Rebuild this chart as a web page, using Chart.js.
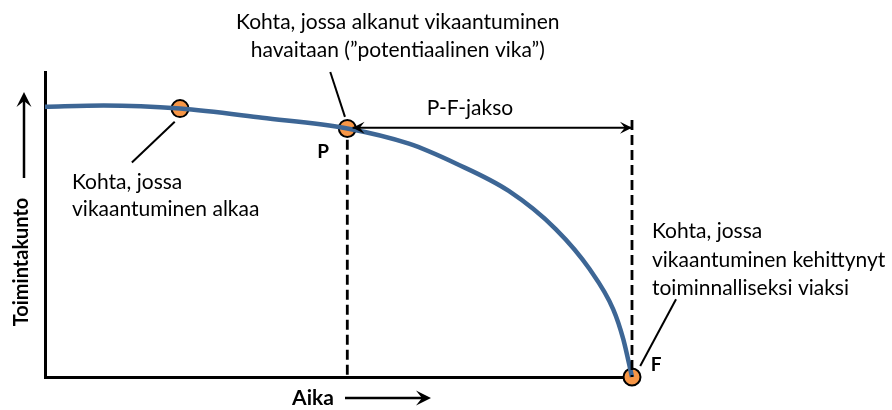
<!DOCTYPE html>
<html>
<head>
<meta charset="utf-8">
<script src="https://cdn.jsdelivr.net/npm/chart.js@4/dist/chart.umd.min.js"></script>
<style>
  html, body { margin: 0; padding: 0; background: #fff; }
</style>
</head>
<body>
<canvas id="pf" width="892" height="410"></canvas>
<script>
// P-F curve: time (0..100) vs condition (0..100)
const aika = [0, 10, 23, 37, 51.5, 62, 70, 79, 87, 92.8, 96.8, 98.5, 100];
const kunto = [88.6, 89, 88, 85, 81.5, 76.5, 70, 61, 48.5, 35.3, 22.2, 12.5, 0];

// marked points: onset, P, F
const pointX = [23, 51.5, 100];
const pointY = [88, 81.5, 0];

// dashed verticals at P and F
const dashP = [[51.5, 77.8], [51.5, 0]];
const dashF = [[100, 84.3], [100, 0]];

// P-F interval arrow
const pfArrow = [[52.4, 81.7], [100, 81.7]];

// leader lines from labels to points
const leaders = [
    [[22.1, 83.7], [14.8, 70.3]],
    [[48.6, 100], [51.1, 85.3]],
    [[107.5, 25.5], [101.4, 3.6]]
];

const blue = "#3d6695";
const orange = "#f79646";
const font = "Lato, 'Open Sans', sans-serif";

function xy(xs, ys) {
    return xs.map((x, i) => ({ x: x, y: ys[i] }));
}
function pts(list) {
    return list.map(p => ({ x: p[0], y: p[1] }));
}

const datasets = [];
datasets.push({
    data: pts(dashP), borderColor: "#000", borderWidth: 2.8, borderDash: [10, 5],
    pointRadius: 0, showLine: true
});
datasets.push({
    data: pts(dashF), borderColor: "#000", borderWidth: 2.8, borderDash: [10, 5],
    pointRadius: 0, showLine: true
});
datasets.push({
    data: pts(pfArrow), borderColor: "#000", borderWidth: 2,
    pointRadius: 0, showLine: true
});
for (const l of leaders) {
    datasets.push({
        data: pts(l), borderColor: "#000", borderWidth: 2,
        pointRadius: 0, showLine: true
    });
}
datasets.push({
    data: xy(aika, kunto), borderColor: blue, borderWidth: 4.5,
    pointRadius: 0, showLine: true, cubicInterpolationMode: "monotone"
});
datasets.push({
    data: xy(pointX, pointY), backgroundColor: orange, borderColor: "#000",
    borderWidth: 2, pointRadius: 8.5, showLine: false
});

const texts = [
    { x: 60.1, y: 116.3, t: "Kohta, jossa alkanut vikaantuminen", align: "center" },
    { x: 60.1, y: 107.2, t: "havaitaan (\u201dpotentiaalinen vika\u201d)", align: "center" },
    { x: 72.4, y: 88.2, t: "P-F-jakso", align: "center" },
    { x: 4.6, y: 63.7, t: "Kohta, jossa", align: "left" },
    { x: 4.6, y: 54.9, t: "vikaantuminen alkaa", align: "left" },
    { x: 103.4, y: 47.7, t: "Kohta, jossa", align: "left" },
    { x: 103.4, y: 38.2, t: "vikaantuminen kehittynyt", align: "left" },
    { x: 103.4, y: 29.1, t: "toiminnalliseksi viaksi", align: "left" },
    { x: 47.4, y: 73.9, t: "P", align: "center", bold: true },
    { x: 104.1, y: 3.9, t: "F", align: "center", bold: true }
];

function arrowHead(ctx, x, y, dir, len, half) {
    // dir: angle in radians the arrow points to
    ctx.save();
    ctx.translate(x, y);
    ctx.rotate(dir);
    ctx.beginPath();
    ctx.moveTo(0, 0);
    ctx.lineTo(-len, -half);
    ctx.lineTo(-len * 0.6, 0);
    ctx.lineTo(-len, half);
    ctx.closePath();
    ctx.fill();
    ctx.restore();
}

const decor = {
    id: "decor",
    afterDraw(chart) {
        const ctx = chart.ctx;
        const sx = chart.scales.x, sy = chart.scales.y;
        const area = chart.chartArea;
        ctx.save();
        ctx.fillStyle = "#000";
        ctx.strokeStyle = "#000";
        ctx.textBaseline = "middle";

        for (const a of texts) {
            ctx.font = (a.bold ? "bold 19px " : "21px ") + font;
            ctx.textAlign = a.align;
            ctx.fillText(a.t, sx.getPixelForValue(a.x), sy.getPixelForValue(a.y));
        }

        // P-F arrow heads
        const ay = sy.getPixelForValue(pfArrow[0][1]);
        arrowHead(ctx, sx.getPixelForValue(pfArrow[0][0]), ay, Math.PI, 12, 6);
        arrowHead(ctx, sx.getPixelForValue(pfArrow[1][0]), ay, 0, 12, 6);

        // x axis title and arrow
        ctx.font = "bold 21px " + font;
        ctx.textAlign = "center";
        ctx.fillText("Aika", area.left + 268, area.bottom + 21);
        ctx.lineWidth = 2.5;
        ctx.beginPath();
        ctx.moveTo(area.left + 300, area.bottom + 21);
        ctx.lineTo(area.left + 380, area.bottom + 21);
        ctx.stroke();
        arrowHead(ctx, area.left + 386, area.bottom + 21, 0, 15, 7.5);

        // y axis title and arrow
        ctx.font = "bold 20px " + font;
        ctx.save();
        ctx.translate(area.left - 23, area.top + 190);
        ctx.rotate(-Math.PI / 2);
        ctx.fillText("Toimintakunto", 0, 0);
        ctx.restore();
        ctx.beginPath();
        ctx.moveTo(area.left - 21, area.top + 106);
        ctx.lineTo(area.left - 21, area.top + 26);
        ctx.stroke();
        arrowHead(ctx, area.left - 21, area.top + 20, -Math.PI / 2, 15, 7.5);

        ctx.restore();
    }
};

new Chart(document.getElementById("pf"), {
    type: "scatter",
    data: { datasets },
    plugins: [decor],
    options: {
        responsive: false,
        animation: false,
        devicePixelRatio: 1,
        layout: { padding: { left: 37, right: 260, top: 72, bottom: 25 } },
        clip: false,
        plugins: { legend: { display: false }, tooltip: { enabled: false } },
        scales: {
            x: {
                type: "linear", min: 0, max: 100,
                grid: { display: false }, ticks: { display: false },
                border: { color: "#000", width: 3 }
            },
            y: {
                type: "linear", min: 0, max: 100,
                grid: { display: false }, ticks: { display: false },
                border: { color: "#000", width: 3 }
            }
        }
    }
});
</script>
</body>
</html>
